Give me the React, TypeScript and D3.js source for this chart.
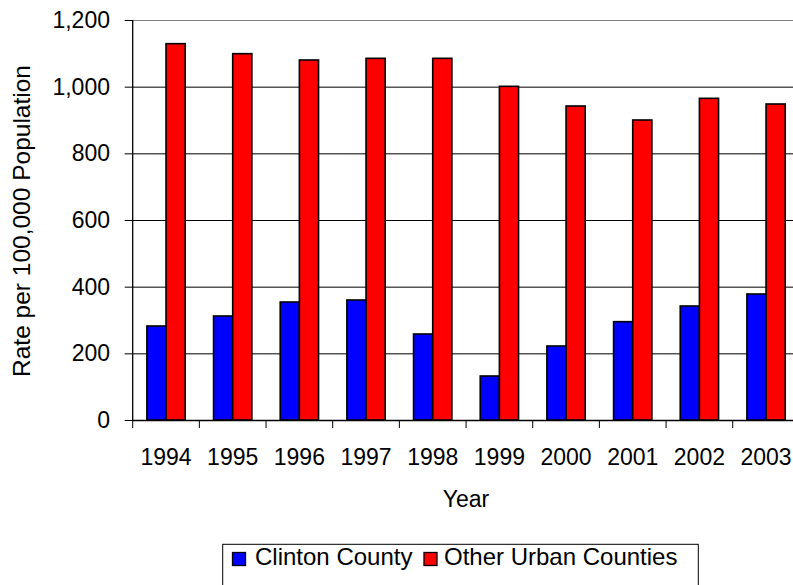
import React from "react";
import * as d3 from "d3";

const years = ["1994", "1995", "1996", "1997", "1998", "1999", "2000", "2001", "2002", "2003"];
const seriesNames = ["Clinton County", "Other Urban Counties"];
const clintonCounty = [282, 312, 354, 360, 258, 132, 222, 295, 342, 378];
const otherUrbanCounties = [1129, 1099, 1080, 1085, 1085, 1001, 942, 900, 965, 948];
const yTicks = [0, 200, 400, 600, 800, 1000, 1200];
const seriesColors = ["#0000FF", "#FF0000"];

const W = 793;
const H = 585;
const FONT = "'Liberation Sans', Arial, Helvetica, sans-serif";

export default function App() {
  const left = 132.7;
  const top = 20;
  const bottom = 420;
  const step = 66.67;
  const right = left + step * years.length;

  const x = d3.scaleBand<string>().domain(years).range([left, right]).paddingInner(0).paddingOuter(0);
  const inner = d3.scaleBand<string>().domain(seriesNames).range([0, x.bandwidth()]).paddingInner(0).paddingOuter(0.74);
  const y = d3.scaleLinear().domain([0, 1200]).range([bottom, top]);
  const fmt = d3.format(",");

  const series = [clintonCounty, otherUrbanCounties];

  // legend entries: swatch x, label x
  const legendItems = [
    { swatch: 232.5, label: 255 },
    { swatch: 424, label: 444 },
  ];

  return (
    <svg
      width={W}
      height={H}
      style={{ position: "absolute", left: 0, top: 0, background: "#fff" }}
      fontFamily={FONT}
    >
      {/* gridlines */}
      {yTicks.map((t) => (
        <line
          key={"g" + t}
          x1={left}
          x2={W}
          y1={y(t) + 0.5}
          y2={y(t) + 0.5}
          stroke={t === 1200 ? "#808080" : "#000"}
          strokeWidth={1}
        />
      ))}

      {/* bars */}
      {years.map((yr, i) => (
        <g key={yr} transform={`translate(${x(yr)},0)`}>
          {seriesNames.map((s, j) => (
            <rect
              key={s}
              x={inner(s)}
              y={y(series[j][i])}
              width={inner.bandwidth()}
              height={y(0) - y(series[j][i])}
              fill={seriesColors[j]}
              stroke="#000"
              strokeWidth={1.6}
            />
          ))}
        </g>
      ))}

      {/* y axis */}
      <line x1={left} x2={left} y1={top} y2={bottom} stroke="#000" strokeWidth={1.3} />
      {yTicks.map((t) => (
        <g key={"y" + t}>
          <line x1={left - 8} x2={left} y1={y(t) + 0.5} y2={y(t) + 0.5} stroke="#000" />
          <text x={110} y={y(t)} dy="0.35em" textAnchor="end" fontSize={23} fill="#000">
            {fmt(t)}
          </text>
        </g>
      ))}

      {/* x axis */}
      <line x1={left} x2={W} y1={bottom + 0.5} y2={bottom + 0.5} stroke="#000" strokeWidth={1.3} />
      {years.map((yr) => (
        <g key={"x" + yr}>
          <line x1={x(yr)!} x2={x(yr)!} y1={bottom} y2={bottom + 8} stroke="#000" />
          <text x={x(yr)! + x.bandwidth() / 2} y={465} textAnchor="middle" fontSize={23} fill="#000">
            {yr}
          </text>
        </g>
      ))}

      {/* axis titles */}
      <text x={466} y={507} textAnchor="middle" fontSize={23} fill="#000">
        Year
      </text>
      <text
        transform={`translate(30,221) rotate(-90)`}
        textAnchor="middle"
        fontSize={24.5}
        fill="#000"
      >
        Rate per 100,000 Population
      </text>

      {/* legend */}
      <rect x={222.7} y={544.3} width={475.6} height={50} fill="#fff" stroke="#000" strokeWidth={1} />
      {seriesNames.map((s, j) => (
        <g key={"lg" + s}>
          <rect
            x={legendItems[j].swatch}
            y={552.5}
            width={13}
            height={13}
            fill={seriesColors[j]}
            stroke="#000"
            strokeWidth={1.3}
          />
          <text x={legendItems[j].label} y={565} fontSize={24} fill="#000">
            {s}
          </text>
        </g>
      ))}
    </svg>
  );
}
